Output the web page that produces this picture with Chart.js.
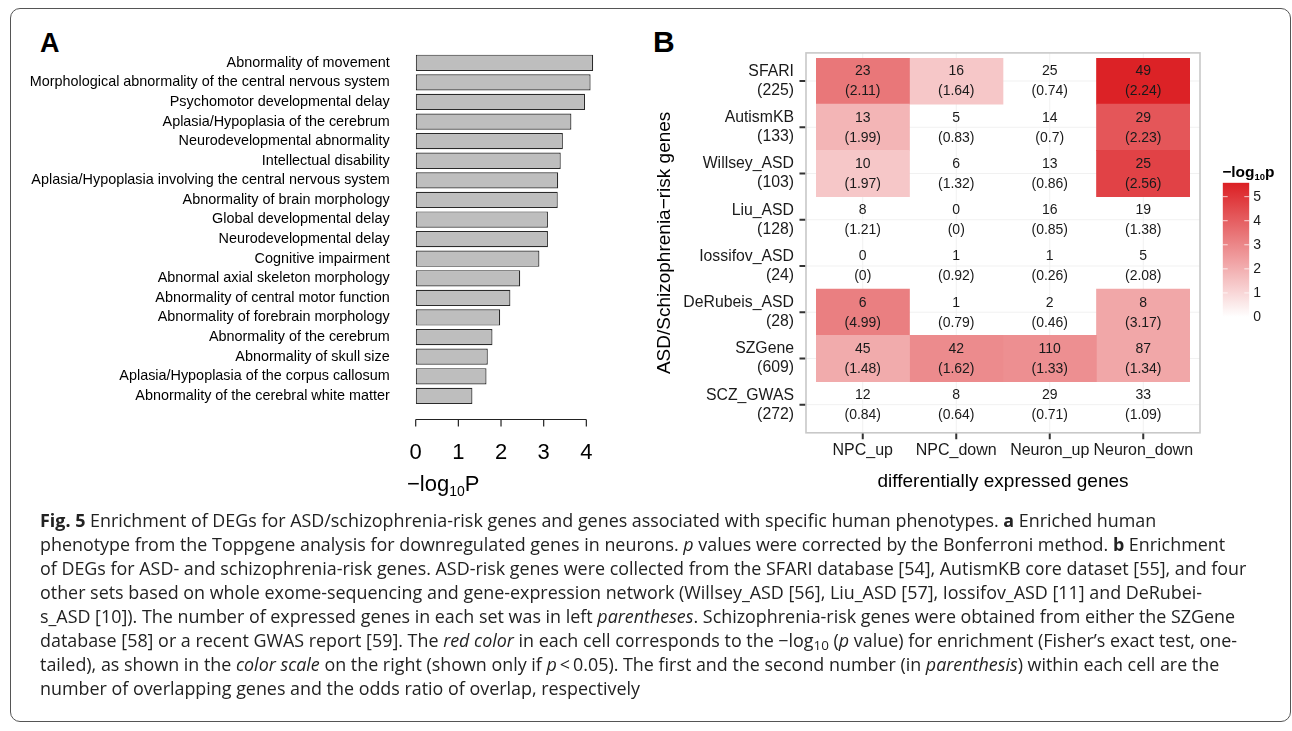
<!DOCTYPE html>
<html>
<head>
<meta charset="utf-8">
<script src="https://cdn.jsdelivr.net/npm/chart.js@4.4.1/dist/chart.umd.min.js"></script>
<style>
  html, body { margin: 0; padding: 0; background: #fff; }
  body { width: 1292px; height: 731px; position: relative; overflow: hidden; font-family: "Liberation Sans", Arial, sans-serif; }
  .frame { position: absolute; left: 10px; top: 8px; width: 1281px; height: 714px; border: 1.3px solid #555; border-radius: 10px; box-sizing: border-box; }
  canvas { position: absolute; }
  #barA { left: 0; top: 0; }
  #heatB { left: 640px; top: 0; }
  #scaleB { left: 1210px; top: 150px; }
  .panel { position: absolute; font-weight: bold; color: #000; line-height: 1; }
  .caption { position: absolute; left: 40px; top: 508px; font-family: "Open Sans", sans-serif; font-size: 17.9px; color: #222; }
  .caption div { height: 24px; line-height: 24px; white-space: nowrap; }
  .caption sub { font-size: 0.75em; vertical-align: -0.2em; line-height: 0; }
</style>
</head>
<body>
<div class="frame"></div>
<div class="panel" style="left:40px; top:29.8px; font-size:27px;">A</div>
<div class="panel" style="left:653px; top:26.9px; font-size:30px;">B</div>
<canvas id="barA" width="640" height="510"></canvas>
<canvas id="heatB" width="652" height="510"></canvas>
<canvas id="scaleB" width="82" height="180"></canvas>

<div class="caption">
  <div><b>Fig. 5</b> Enrichment of DEGs for ASD/schizophrenia-risk genes and genes associated with specific human phenotypes. <b>a</b> Enriched human</div>
  <div>phenotype from the Toppgene analysis for downregulated genes in neurons. <i>p</i> values were corrected by the Bonferroni method. <b>b</b> Enrichment</div>
  <div>of DEGs for ASD- and schizophrenia-risk genes. ASD-risk genes were collected from the SFARI database [54], AutismKB core dataset [55], and four</div>
  <div>other sets based on whole exome-sequencing and gene-expression network (Willsey_ASD [56], Liu_ASD [57], Iossifov_ASD [11] and DeRubei-</div>
  <div>s_ASD [10]). The number of expressed genes in each set was in left <i>parentheses</i>. Schizophrenia-risk genes were obtained from either the SZGene</div>
  <div>database [58] or a recent GWAS report [59]. The <i>red color</i> in each cell corresponds to the &minus;log<sub>10</sub> (<i>p</i> value) for enrichment (Fisher&rsquo;s exact test, one-</div>
  <div>tailed), as shown in the <i>color scale</i> on the right (shown only if <i>p</i>&thinsp;&lt;&thinsp;0.05). The first and the second number (in <i>parenthesis</i>) within each cell are the</div>
  <div>number of overlapping genes and the odds ratio of overlap, respectively</div>
</div>

<script>
const FONT = '"Liberation Sans", Arial, Helvetica, sans-serif'

// panel A: enriched phenotypes, -log10 P
const phenotypes = [
  "Abnormality of movement",
  "Morphological abnormality of the central nervous system",
  "Psychomotor developmental delay",
  "Aplasia/Hypoplasia of the cerebrum",
  "Neurodevelopmental abnormality",
  "Intellectual disability",
  "Aplasia/Hypoplasia involving the central nervous system",
  "Abnormality of brain morphology",
  "Global developmental delay",
  "Neurodevelopmental delay",
  "Cognitive impairment",
  "Abnormal axial skeleton morphology",
  "Abnormality of central motor function",
  "Abnormality of forebrain morphology",
  "Abnormality of the cerebrum",
  "Abnormality of skull size",
  "Aplasia/Hypoplasia of the corpus callosum",
  "Abnormality of the cerebral white matter"
]
const phenoLogP = [4.16, 4.10, 3.97, 3.65, 3.45, 3.40, 3.34, 3.33, 3.10, 3.10, 2.90, 2.45, 2.22, 1.98, 1.80, 1.69, 1.66, 1.33]
const phenoTicks = [0, 1, 2, 3, 4]

// panel B: overlap of DEGs with risk gene sets
const geneSets = ["SFARI", "AutismKB", "Willsey_ASD", "Liu_ASD", "Iossifov_ASD", "DeRubeis_ASD", "SZGene", "SCZ_GWAS"]
const setSizes = [225, 133, 103, 128, 24, 28, 609, 272]
const degGroups = ["NPC_up", "NPC_down", "Neuron_up", "Neuron_down"]
const overlapCounts = [
  [23, 16, 25, 49],
  [13, 5, 14, 29],
  [10, 6, 13, 25],
  [8, 0, 16, 19],
  [0, 1, 1, 5],
  [6, 1, 2, 8],
  [45, 42, 110, 87],
  [12, 8, 29, 33]
]
const oddsRatios = [
  [2.11, 1.64, 0.74, 2.24],
  [1.99, 0.83, 0.7, 2.23],
  [1.97, 1.32, 0.86, 2.56],
  [1.21, 0, 0.85, 1.38],
  [0, 0.92, 0.26, 2.08],
  [4.99, 0.79, 0.46, 3.17],
  [1.48, 1.62, 1.33, 1.34],
  [0.84, 0.64, 0.71, 1.09]
]
// -log10 p, only where p < 0.05 (null = not shown)
const enrichLogP = [
  [3.4, 1.4, null, 5.5],
  [1.85, null, null, 4.2],
  [1.4, null, null, 4.7],
  [null, null, null, null],
  [null, null, null, null],
  [3.2, null, null, 2.2],
  [2.1, 2.9, 2.8, 2.2],
  [null, null, null, null]
]
const colorTicks = [0, 1, 2, 3, 4, 5]
const colorMax = 5.58

function heatColor(v) {
  if (v == null) return "rgba(0,0,0,0)"
  const t = Math.min(v / colorMax, 1)
  const r = Math.round(255 + (219 - 255) * t)
  const g = Math.round(255 + (31 - 255) * t)
  const b = Math.round(255 + (35 - 255) * t)
  return `rgb(${r},${g},${b})`
}

// R style axis line + title with subscript
const rAxisA = {
  id: "rAxisA",
  afterDraw(chart) {
    const { ctx, scales: { x } } = chart
    const y0 = 419.5
    ctx.save()
    ctx.strokeStyle = "#222"
    ctx.lineWidth = 1.2
    ctx.beginPath()
    ctx.moveTo(x.getPixelForValue(phenoTicks[0]), y0)
    ctx.lineTo(x.getPixelForValue(phenoTicks[phenoTicks.length - 1]), y0)
    phenoTicks.forEach(v => {
      const px = x.getPixelForValue(v)
      ctx.moveTo(px, y0)
      ctx.lineTo(px, y0 + 7)
    })
    ctx.stroke()

    ctx.fillStyle = "#000"
    ctx.textBaseline = "alphabetic"
    ctx.textAlign = "left"
    let tx = 407
    const ty = 491
    ctx.font = `22px ${FONT}`
    ctx.fillText("\u2212log", tx, ty)
    tx += ctx.measureText("\u2212log").width
    ctx.font = `14px ${FONT}`
    ctx.fillText("10", tx, ty + 5)
    tx += ctx.measureText("10").width
    ctx.font = `22px ${FONT}`
    ctx.fillText("P", tx, ty)
    ctx.restore()
  }
}

new Chart(document.getElementById("barA"), {
  type: "bar",
  data: {
    labels: phenotypes,
    datasets: [{
      data: phenoLogP,
      backgroundColor: "#bebebe",
      borderColor: "#2a2a2a",
      borderWidth: 1.2,
      borderSkipped: false,
      barPercentage: 0.83,
      categoryPercentage: 1
    }]
  },
  options: {
    indexAxis: "y",
    responsive: false,
    animation: false,
    layout: { padding: { top: 53, right: 36.6, left: 0, bottom: 0 } },
    plugins: { legend: { display: false }, tooltip: { enabled: false } },
    scales: {
      x: {
        min: 0,
        max: 4.4,
        afterBuildTicks: s => { s.ticks = phenoTicks.map(v => ({ value: v })) },
        afterFit: s => { s.height = 104.35 },
        grid: { display: false, drawTicks: false },
        border: { display: false },
        ticks: { color: "#000", font: { size: 22, family: FONT }, padding: 34, maxRotation: 0 }
      },
      y: {
        afterFit: s => { s.width = 415.7 },
        grid: { display: false, drawTicks: false },
        border: { display: false },
        ticks: { color: "#000", font: { size: 14.4, family: FONT }, padding: 26, autoSkip: false }
      }
    }
  },
  plugins: [rAxisA]
})

// heatmap panel: background grid, border, ticks, cell text
const heatPanel = {
  id: "heatPanel",
  beforeDatasetsDraw(chart) {
    const { ctx, chartArea: a, scales: { x, y } } = chart
    const L = a.left - 10, R = a.right + 10, T = a.top - 5, B = a.bottom + 5
    ctx.save()
    ctx.strokeStyle = "#f1f1f1"
    ctx.lineWidth = 1
    ctx.beginPath()
    degGroups.forEach((g, c) => {
      const px = x.getPixelForValue(c + 0.5)
      ctx.moveTo(px, T); ctx.lineTo(px, B)
    })
    geneSets.forEach((g, r) => {
      const py = y.getPixelForValue(r)
      ctx.moveTo(L, py); ctx.lineTo(R, py)
    })
    ctx.stroke()
    ctx.restore()
  },
  afterDatasetsDraw(chart) {
    const { ctx, chartArea: a, scales: { x, y } } = chart
    const L = a.left - 10, R = a.right + 10, T = a.top - 5, B = a.bottom + 5
    ctx.save()
    ctx.strokeStyle = "#c8c8c8"
    ctx.lineWidth = 1.6
    ctx.strokeRect(L, T, R - L, B - T)

    ctx.strokeStyle = "#333"
    ctx.lineWidth = 2
    ctx.beginPath()
    geneSets.forEach((g, r) => {
      const py = y.getPixelForValue(r)
      ctx.moveTo(L - 6.5, py); ctx.lineTo(L - 0.8, py)
    })
    degGroups.forEach((g, c) => {
      const px = x.getPixelForValue(c + 0.5)
      ctx.moveTo(px, B + 0.8); ctx.lineTo(px, B + 6.5)
    })
    ctx.stroke()

    ctx.fillStyle = "#1a1a1a"
    ctx.font = `14px ${FONT}`
    ctx.textAlign = "center"
    ctx.textBaseline = "middle"
    geneSets.forEach((g, r) => {
      const py = y.getPixelForValue(r)
      degGroups.forEach((d, c) => {
        const px = x.getPixelForValue(c + 0.5)
        ctx.fillText(String(overlapCounts[r][c]), px, py - 9.5)
        ctx.fillText(`(${oddsRatios[r][c]})`, px, py + 10.5)
      })
    })
    ctx.restore()
  }
}

new Chart(document.getElementById("heatB"), {
  type: "bar",
  data: {
    labels: geneSets.map((g, i) => [g, `(${setSizes[i]})`]),
    datasets: degGroups.map((grp, c) => ({
      label: grp,
      data: geneSets.map((g, r) => enrichLogP[r][c] == null ? null : [c, c + 1]),
      backgroundColor: geneSets.map((g, r) => heatColor(enrichLogP[r][c])),
      borderWidth: 0,
      barPercentage: 1,
      categoryPercentage: 1,
      grouped: false
    }))
  },
  options: {
    indexAxis: "y",
    responsive: false,
    animation: false,
    layout: { padding: { top: 57.9, right: 102, left: 9.6, bottom: 0 } },
    plugins: { legend: { display: false }, tooltip: { enabled: false } },
    scales: {
      x: {
        type: "linear",
        min: 0,
        max: degGroups.length,
        afterBuildTicks: s => { s.ticks = degGroups.map((g, i) => ({ value: i + 0.5 })) },
        afterFit: s => { s.height = 82.2 },
        grid: { display: false, drawTicks: false },
        border: { display: false },
        ticks: {
          color: "#1a1a1a",
          font: { size: 16, family: FONT },
          padding: 13,
          maxRotation: 0,
          autoSkip: false,
          callback: (v, i) => degGroups[i]
        },
        title: {
          display: true,
          text: "differentially expressed genes",
          color: "#000",
          font: { size: 19, family: FONT },
          padding: { top: 0, bottom: 16.6 }
        }
      },
      y: {
        afterFit: s => { s.width = 176 - 9.6 },
        grid: { display: false, drawTicks: false },
        border: { display: false },
        ticks: { color: "#1a1a1a", font: { size: 15.8, family: FONT, lineHeight: 1.2 }, padding: 22, autoSkip: false },
        title: {
          display: true,
          text: "ASD/Schizophrenia\u2212risk genes",
          color: "#000",
          font: { size: 19, family: FONT },
          padding: { top: 4, bottom: 0 }
        }
      }
    }
  },
  plugins: [heatPanel]
})

// colour bar
const scaleDecor = {
  id: "scaleDecor",
  afterDatasetsDraw(chart) {
    const { ctx, chartArea: a, scales: { y } } = chart
    ctx.save()
    ctx.strokeStyle = "rgba(255,255,255,0.75)"
    ctx.lineWidth = 1
    ctx.beginPath()
    colorTicks.forEach(v => {
      const py = y.getPixelForValue(v)
      ctx.moveTo(a.left, py); ctx.lineTo(a.left + 5, py)
      ctx.moveTo(a.right - 5, py); ctx.lineTo(a.right, py)
    })
    ctx.stroke()

    ctx.fillStyle = "#000"
    ctx.textAlign = "left"
    ctx.textBaseline = "alphabetic"
    let tx = a.left - 0.5
    const ty = 27
    ctx.font = `bold 15.5px ${FONT}`
    ctx.fillText("\u2212log", tx, ty)
    tx += ctx.measureText("\u2212log").width
    ctx.font = `bold 9.5px ${FONT}`
    ctx.fillText("10", tx, ty + 3)
    tx += ctx.measureText("10").width
    ctx.font = `bold 15.5px ${FONT}`
    ctx.fillText("p", tx, ty)
    ctx.restore()
  }
}

new Chart(document.getElementById("scaleB"), {
  type: "bar",
  data: {
    labels: ["-log10p"],
    datasets: [{
      data: [colorMax],
      barPercentage: 1,
      categoryPercentage: 1,
      borderWidth: 0,
      backgroundColor: ctx => {
        const area = ctx.chart.chartArea
        if (!area) return "rgba(0,0,0,0)"
        const grad = ctx.chart.ctx.createLinearGradient(0, area.bottom, 0, area.top)
        for (let k = 0; k <= 10; k++) grad.addColorStop(k / 10, heatColor(colorMax * k / 10))
        return grad
      }
    }]
  },
  options: {
    responsive: false,
    animation: false,
    layout: { padding: { top: 32.7, right: 0, left: 12.7, bottom: 13 } },
    plugins: { legend: { display: false }, tooltip: { enabled: false } },
    scales: {
      x: { display: false },
      y: {
        position: "right",
        min: 0,
        max: colorMax,
        afterBuildTicks: s => { s.ticks = colorTicks.map(v => ({ value: v })) },
        afterFit: s => { s.width = 42.7 },
        grid: { display: false, drawTicks: false },
        border: { display: false },
        ticks: { color: "#1a1a1a", font: { size: 14, family: FONT }, padding: 4 }
      }
    }
  },
  plugins: [scaleDecor]
})
</script>
</body>
</html>
